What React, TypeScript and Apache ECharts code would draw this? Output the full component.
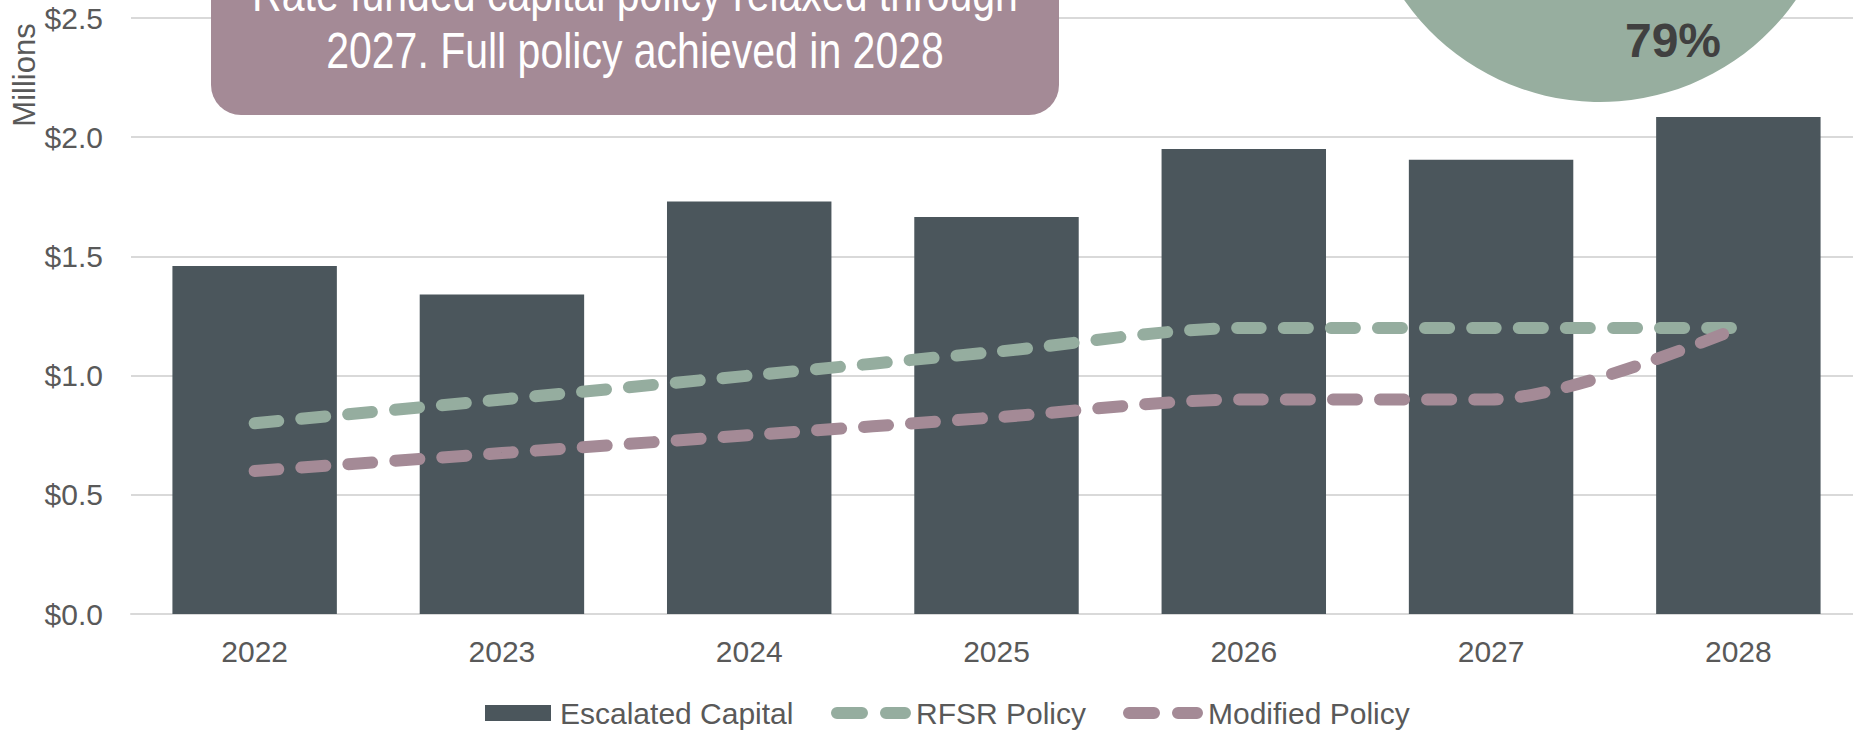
import React, { useEffect, useRef } from "react";
import * as echarts from "echarts";

const years = ["2022", "2023", "2024", "2025", "2026", "2027", "2028"];
const escalatedCapital = [1.46, 1.34, 1.73, 1.665, 1.95, 1.905, 2.085];
const rfsrPolicy = [0.8, 0.9, 1.0, 1.1, 1.2, 1.2, 1.2];
const modifiedPolicy = [0.6, 0.675, 0.75, 0.825, 0.9, 0.9, 1.2];
const pieNames = ["Funded", "Remaining"];
const pieValues = [79, 21];
const annotationText = "Rate funded capital policy relaxed through\n2027. Full policy achieved in 2028";
const yAxisName = "Millions";

const FONT = "'Liberation Sans Narrow', 'Arial Narrow', 'Liberation Sans', Arial, sans-serif";
const GRAY = "#595959";
const BAR = "#4B565C";
const GREEN = "#95AD9F";
const MAUVE = "#A48A96";
const DASH_ICON =
  "path://M6,0 H31 A6,6 0 0 1 31,12 H6 A6,6 0 0 1 6,0 Z M55,0 H74 A6,6 0 0 1 74,12 H55 A6,6 0 0 1 55,0 Z";

export default function App() {
  const ref = useRef<HTMLDivElement>(null);
  useEffect(() => {
    document.body.style.margin = "0";
    document.body.style.overflow = "hidden";
    const chart = echarts.init(ref.current!, undefined, { renderer: "svg" });
    const dash = [24, 23];
    const legendText = { color: GRAY, fontSize: 30, fontFamily: FONT };
    chart.setOption({
      animation: false,
      textStyle: { fontFamily: FONT },
      grid: { left: 131, right: 0, top: 18, bottom: 121 },
      xAxis: {
        type: "category",
        data: years,
        axisTick: { show: false },
        axisLine: { lineStyle: { color: "#D9D9D9", width: 2 } },
        axisLabel: { color: GRAY, fontSize: 30, fontFamily: FONT, margin: 22 },
      },
      yAxis: {
        type: "value",
        min: 0,
        max: 2.5,
        interval: 0.5,
        axisLine: { show: false },
        axisTick: { show: false },
        splitLine: { lineStyle: { color: "#D9D9D9", width: 2 } },
        axisLabel: {
          color: GRAY,
          fontSize: 30,
          fontFamily: FONT,
          margin: 28,
          formatter: (v: number) => "$" + v.toFixed(1),
        },
      },
      legend: [
        {
          data: [{ name: "Escalated Capital", icon: "rect" }],
          left: 480,
          top: 693,
          itemWidth: 66,
          itemHeight: 16,
          textStyle: { ...legendText, padding: [0, 0, 0, 4] },
        },
        {
          data: [{ name: "RFSR Policy", icon: DASH_ICON }],
          left: 826,
          top: 693,
          itemWidth: 80,
          itemHeight: 12,
          textStyle: legendText,
        },
        {
          data: [{ name: "Modified Policy", icon: DASH_ICON }],
          left: 1118,
          top: 693,
          itemWidth: 80,
          itemHeight: 12,
          textStyle: legendText,
        },
      ],
      series: [
        {
          name: "Escalated Capital",
          type: "bar",
          data: escalatedCapital,
          barWidth: "66.5%",
          itemStyle: { color: BAR },
          z: 1,
        },
        {
          name: "RFSR Policy",
          type: "line",
          data: rfsrPolicy,
          smooth: 0.3,
          symbol: "none",
          showSymbol: false,
          lineStyle: { color: GREEN, width: 12, type: dash, cap: "round" },
          itemStyle: { color: GREEN },
          z: 3,
        },
        {
          name: "Modified Policy",
          type: "line",
          data: modifiedPolicy,
          smooth: 0.3,
          symbol: "none",
          showSymbol: false,
          lineStyle: { color: MAUVE, width: 12, type: dash, cap: "round" },
          itemStyle: { color: MAUVE },
          z: 3,
        },
        {
          name: "Share",
          type: "pie",
          center: [1600, -137],
          radius: 239,
          startAngle: 74.5,
          clockwise: true,
          silent: true,
          z: 5,
          data: pieNames.map((n, i) => ({
            name: n,
            value: pieValues[i],
            itemStyle: { color: i === 0 ? "#97AE9F" : "#C9D6CE" },
            label: { show: i === 0 },
          })),
          label: {
            position: "inside",
            formatter: (p: any) => Math.round(p.percent) + "%",
            color: "#404040",
            fontSize: 48,
            fontWeight: "bold",
            fontFamily: FONT,
          },
          labelLine: { show: false },
          labelLayout: (p: any) =>
            p.dataIndex === 0 ? { x: 1673, y: 40, align: "center", verticalAlign: "middle" } : {},
        },
      ],
      graphic: [
        {
          type: "rect",
          z: 100,
          shape: { x: 211, y: -40, width: 848, height: 155, r: 30 },
          style: { fill: MAUVE },
        },
        {
          type: "text",
          z: 101,
          x: 635,
          y: 23,
          scaleX: 0.82,
          style: {
            text: annotationText,
            fill: "#FFFFFF",
            font: `50px ${FONT}`,
            align: "center",
            verticalAlign: "middle",
            lineHeight: 57,
          },
        },
        {
          type: "text",
          z: 100,
          x: 24,
          y: 75,
          rotation: Math.PI / 2,
          style: {
            text: yAxisName,
            fill: GRAY,
            font: `31px ${FONT}`,
            align: "center",
            verticalAlign: "middle",
          },
        },
      ],
    });
    return () => chart.dispose();
  }, []);
  return (
    <div style={{ width: 1853, height: 735, overflow: "hidden" }}>
      <div ref={ref} style={{ width: 1862, height: 735 }} />
    </div>
  );
}
